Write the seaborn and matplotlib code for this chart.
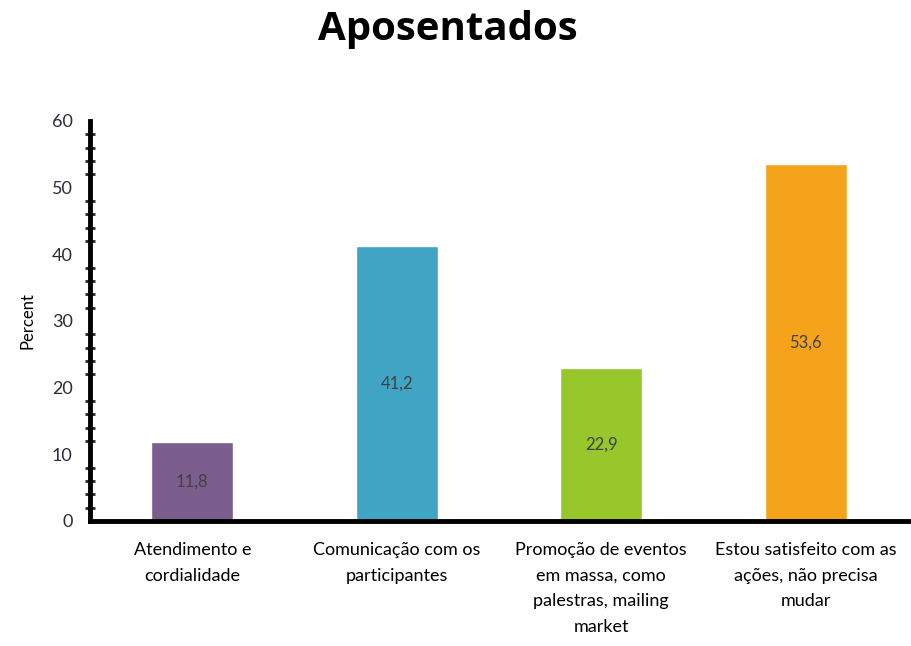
import matplotlib
matplotlib.use("Agg")
import matplotlib.pyplot as plt
import seaborn as sns
import pandas as pd
from matplotlib.ticker import MultipleLocator

CATEGORIES = [
    "Atendimento e\ncordialidade",
    "Comunicação com os\nparticipantes",
    "Promoção de eventos\nem massa, como\npalestras, mailing\nmarket",
    "Estou satisfeito com as\nações, não precisa\nmudar",
]
PERCENT = [11.8, 41.2, 22.9, 53.6]
COLORS = ["#7B5E8E", "#40A4C4", "#97C72A", "#F5A31B"]
Y_TICKS = [0, 10, 20, 30, 40, 50, 60]

sns.set_theme(style="white")
plt.rcParams["font.family"] = ["Lato", "DejaVu Sans"]

df = pd.DataFrame({"categoria": CATEGORIES, "percent": PERCENT})

fig = plt.figure(figsize=(9.11, 6.46), dpi=100)
ax = fig.add_axes([0.0988, 0.1935, 0.898, 0.6192])

sns.barplot(
    data=df, x="categoria", y="percent", hue="categoria",
    palette=COLORS, width=0.4, legend=False, ax=ax, saturation=1,
)

for cont in ax.containers:
    vals = [b.get_height() for b in cont]
    ax.bar_label(
        cont, labels=[f"{v:.1f}".replace(".", ",") for v in vals],
        label_type="center", fontsize=12, color="#404040",
    )

ax.set_xlim(-0.5, 3.5)
ax.set_ylim(0, 60)
ax.set_yticks(Y_TICKS)
ax.yaxis.set_minor_locator(MultipleLocator(2))
ax.tick_params(axis="y", which="major", direction="inout", length=9, width=2,
               labelsize=13, pad=8, colors="black")
ax.tick_params(axis="y", which="minor", direction="inout", length=7, width=2,
               left=True)
ax.tick_params(axis="x", length=0, labelsize=13, pad=15)
for lbl in ax.get_yticklabels():
    lbl.set_color("#2b2b3a")
for lbl in ax.get_xticklabels():
    lbl.set_color("black")
    lbl.set_linespacing(1.75)

ax.set_xlabel("")
ax.set_ylabel("Percent", fontsize=12, labelpad=12, color="black")

for side in ["top", "right"]:
    ax.spines[side].set_visible(False)
ax.spines["left"].set_linewidth(3.5)
ax.spines["bottom"].set_linewidth(3.5)
ax.spines["left"].set_color("black")
ax.spines["bottom"].set_color("black")

fig.text(0.492, 0.955, "Aposentados", ha="center", va="center", color="black",
         fontsize=29, fontweight="bold", family=["Open Sans", "DejaVu Sans"])

fig.savefig("out.png", dpi=100)
plt.close(fig)
